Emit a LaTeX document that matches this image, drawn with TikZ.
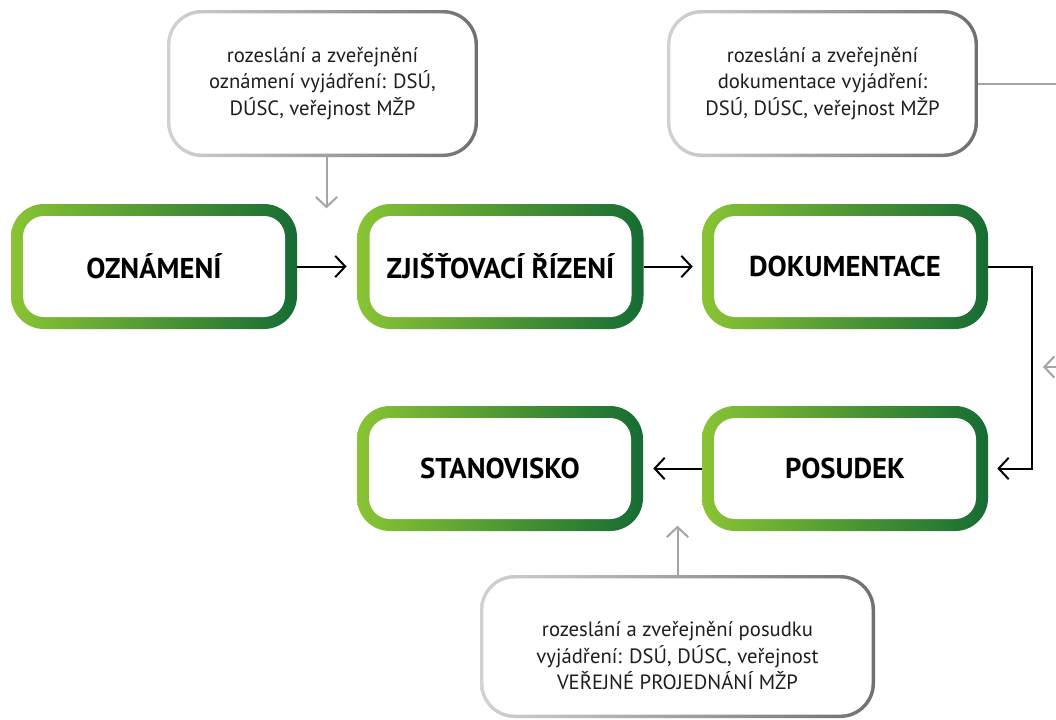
\documentclass[tikz,border=0pt]{standalone}
\usepackage{fontspec}
\setmainfont{PT Sans}
\usetikzlibrary{arrows.meta}
\definecolor{glight}{RGB}{138,196,52}
\definecolor{gdark}{RGB}{22,108,52}
\definecolor{nlight}{RGB}{210,210,210}
\definecolor{ndark}{RGB}{112,112,112}
\definecolor{conn}{RGB}{165,165,165}
\definecolor{ntext}{RGB}{30,30,30}
\begin{document}
\begin{tikzpicture}[x=0.75pt,y=-0.75pt,
  gbox/.style={rounded corners=24.75pt, left color=glight, right color=gdark,
    minimum width=214.5pt, minimum height=93.75pt, inner sep=0pt,
    font=\fontsize{21.5}{26}\selectfont\bfseries,
    path picture={\fill[white, rounded corners=15.75pt]
      ([shift={(9pt,9pt)}]path picture bounding box.south west) rectangle
      ([shift={(-9pt,-9pt)}]path picture bounding box.north east);}},
  nbox/.style={rounded corners=26pt, left color=nlight, right color=ndark,
    inner sep=0pt, align=center, text=ntext,
    font=\fontsize{15.5}{20}\selectfont,
    path picture={\fill[white, rounded corners=23.5pt]
      ([shift={(2.6pt,2.6pt)}]path picture bounding box.south west) rectangle
      ([shift={(-2.6pt,-2.6pt)}]path picture bounding box.north east);}},
  barr/.style={draw=black, line width=1.5pt, -{Straight Barb[length=7.5pt,width=16pt,line width=1.5pt]}},
  garr/.style={draw=conn, line width=1.5pt, -{Straight Barb[length=7.5pt,width=16pt,line width=1.5pt]}},
  gline/.style={draw=conn, line width=1.5pt}]
\useasboundingbox (0,0) rectangle (1056,719);
\fill[white] (0,0) rectangle (1056,719);

% green process boxes
\node[gbox] (ozn) at (154,266.5) {OZNÁMENÍ};
\node[gbox] (zji) at (500.5,266.5) {ZJIŠŤOVACÍ ŘÍZENÍ};
\node[gbox] (dok) at (845,266.5) {DOKUMENTACE};
\node[gbox] (sta) at (500,468.5) {STANOVISKO};
\node[gbox] (pos) at (845,468.5) {POSUDEK};

% grey notes
\node[nbox, minimum width=233.25pt, minimum height=110.25pt] (n1) at (322.5,83.5)
  {rozeslání a zveřejnění\\oznámení vyjádření: DSÚ,\\DÚSC, veřejnost MŽP};
\node[nbox, minimum width=233.25pt, minimum height=110.25pt] (n2) at (822.5,83.5)
  {rozeslání a zveřejnění\\dokumentace vyjádření:\\DSÚ, DÚSC, veřejnost MŽP};
\node[nbox, minimum width=296.25pt, minimum height=107.25pt] (n3) at (677.5,646.5)
  {\raisebox{-12pt}[0pt][0pt]{\begin{tabular}{@{}c@{}}rozeslání a zveřejnění posudku\\vyjádření: DSÚ, DÚSC, veřejnost\\VEŘEJNÉ PROJEDNÁNÍ MŽP\end{tabular}}};

% main flow
\draw[barr, shorten >=8pt] (ozn.east) -- (zji.west);
\draw[barr, shorten >=6.75pt] (zji.east) -- (dok.west);
\draw[barr, shorten >=6.75pt] (dok.east) -- ++(44,0) |- (pos.east);
\draw[barr, shorten >=7.5pt] (pos.west) -- (sta.east);

% note connectors
\coordinate (e2) at (1056,83.5);
\coordinate (eR) at (1058,367);
\coordinate (tR) at (1043,367);
\draw[garr] ([xshift=3pt]n1.south) -- ++(0,51);
\draw[gline] (n2.east) -- (e2);
\draw[garr] (n3.north) -- ++(0,-49);
\draw[garr] (eR) -- (tR);
\end{tikzpicture}
\end{document}
